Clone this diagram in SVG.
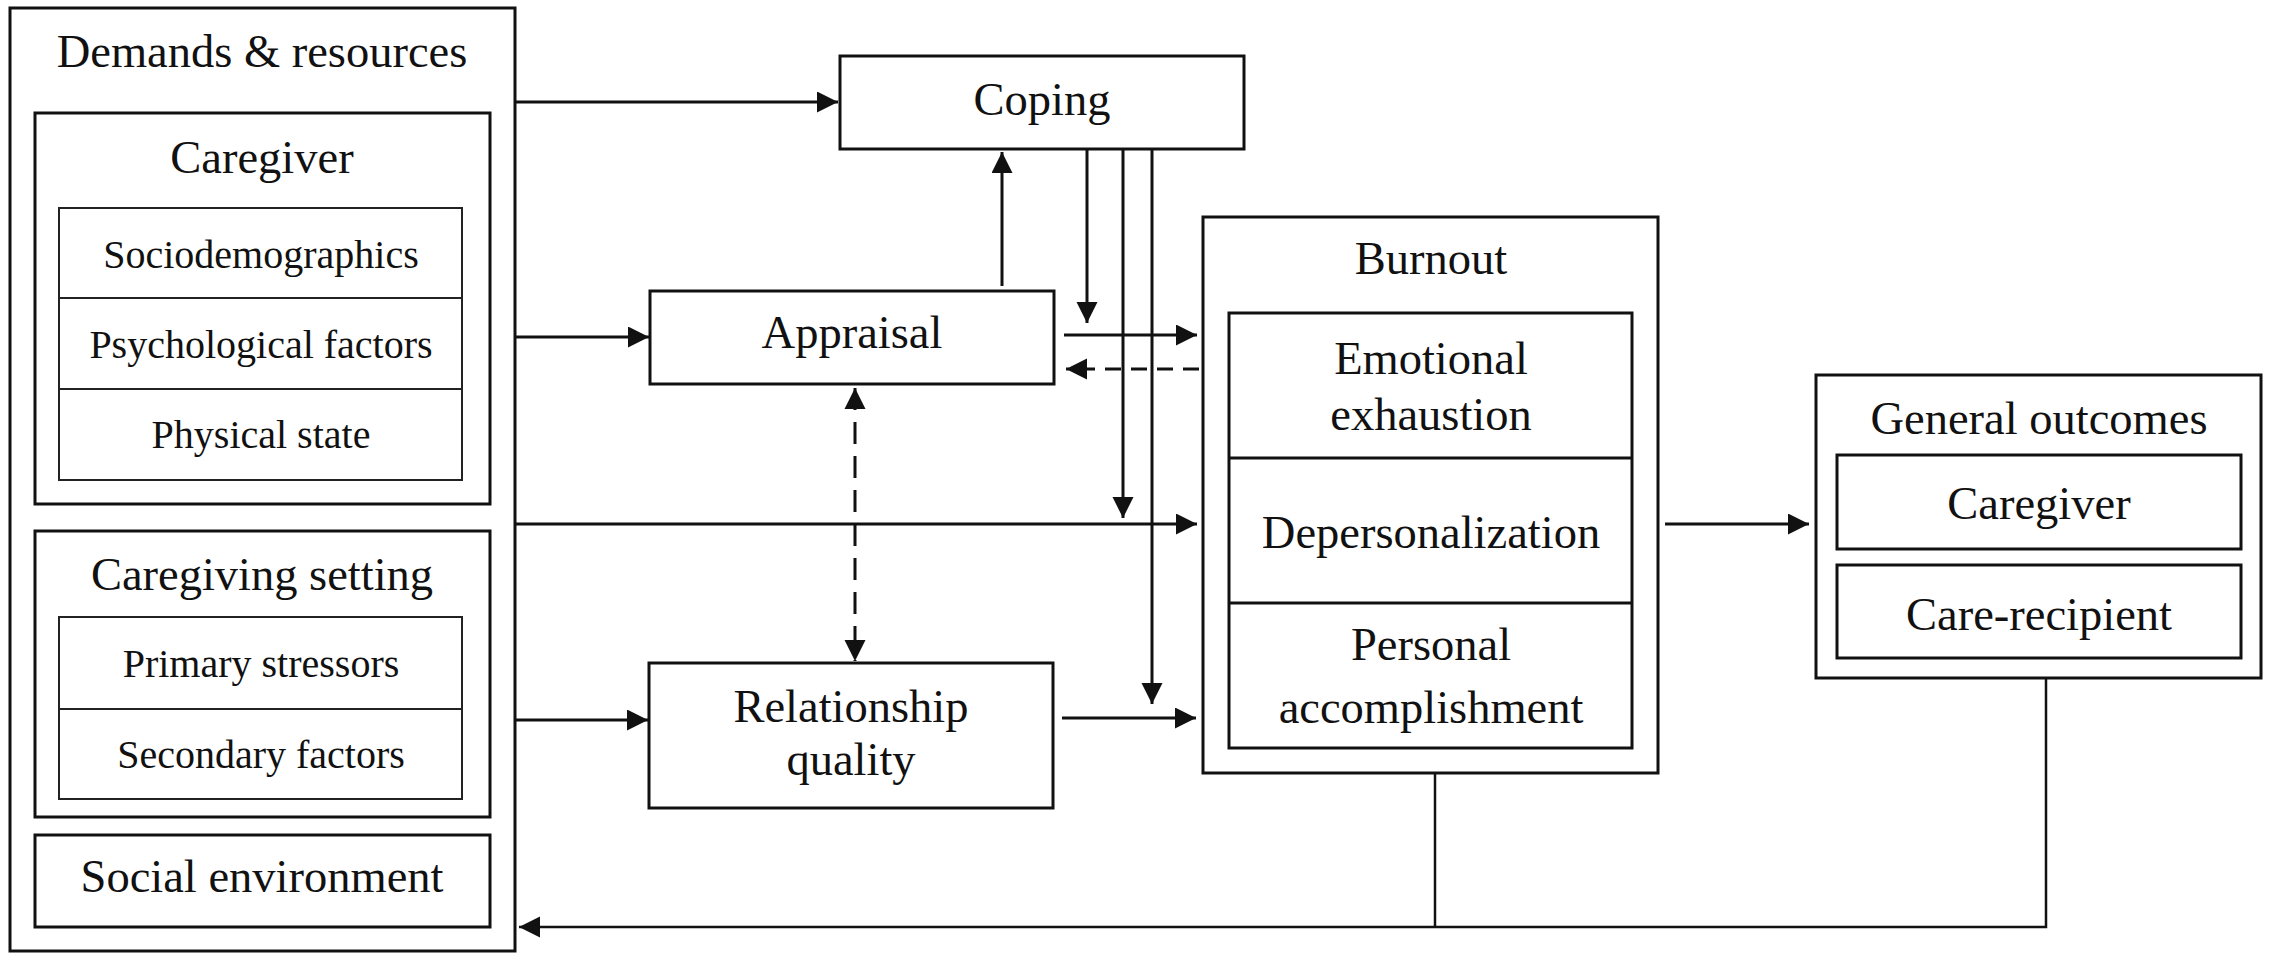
<svg xmlns="http://www.w3.org/2000/svg" width="2272" height="955" viewBox="0 0 2272 955">
<style>
.box{fill:#fff;stroke:#111;stroke-width:3}
.tbl{fill:none;stroke:#222;stroke-width:2}
.t{font-family:"Liberation Serif","Times New Roman",serif;font-size:46.5px;fill:#111;text-anchor:middle}
.s{font-family:"Liberation Serif","Times New Roman",serif;font-size:40px;fill:#111;text-anchor:middle}
.c{fill:none;stroke:#111;stroke-width:3}
.d{fill:none;stroke:#111;stroke-width:3;stroke-dasharray:16 10}
.dv{fill:none;stroke:#111;stroke-width:3;stroke-dasharray:22 12}
.f{fill:none;stroke:#111;stroke-width:2.5}
</style>
<defs>
<marker id="ah" markerUnits="userSpaceOnUse" markerWidth="22" markerHeight="22" refX="21" refY="10.5" orient="auto">
<path d="M0,0 L21,10.5 L0,21 z" fill="#111"/>
</marker>
<marker id="as" markerUnits="userSpaceOnUse" markerWidth="22" markerHeight="22" refX="0" refY="10.5" orient="auto">
<path d="M21,0 L0,10.5 L21,21 z" fill="#111"/>
</marker>
</defs>
<rect width="2272" height="955" fill="#fff"/>

<g id="demands">
<rect class="box" x="10" y="8" width="505" height="943"/>
<text class="t" x="262" y="67">Demands &amp; resources</text>
</g>
<g id="caregiver">
<rect class="box" x="35" y="113" width="455" height="391"/>
<text class="t" x="262" y="173">Caregiver</text>
<rect class="tbl" x="59" y="208" width="403" height="272"/>
<line class="tbl" x1="59" y1="298" x2="462" y2="298"/>
<line class="tbl" x1="59" y1="389" x2="462" y2="389"/>
<text class="s" x="261" y="268">Sociodemographics</text>
<text class="s" x="261" y="358">Psychological factors</text>
<text class="s" x="261" y="448">Physical state</text>
</g>
<g id="caregiving-setting">
<rect class="box" x="35" y="531" width="455" height="286"/>
<text class="t" x="262" y="590">Caregiving setting</text>
<rect class="tbl" x="59" y="617" width="403" height="182"/>
<line class="tbl" x1="59" y1="709" x2="462" y2="709"/>
<text class="s" x="261" y="677">Primary stressors</text>
<text class="s" x="261" y="768">Secondary factors</text>
</g>
<g id="social-environment">
<rect class="box" x="35" y="835" width="455" height="92"/>
<text class="t" x="262" y="892">Social environment</text>
</g>
<g id="coping">
<rect class="box" x="840" y="56" width="404" height="93"/>
<text class="t" x="1042" y="115">Coping</text>
</g>
<g id="appraisal">
<rect class="box" x="650" y="291" width="404" height="93"/>
<text class="t" x="852" y="348">Appraisal</text>
</g>
<g id="relationship">
<rect class="box" x="649" y="663" width="404" height="145"/>
<text class="t" x="851" y="722">Relationship</text>
<text class="t" x="851" y="775">quality</text>
</g>
<g id="burnout">
<rect class="box" x="1203" y="217" width="455" height="556"/>
<text class="t" x="1431" y="274">Burnout</text>
<rect class="box" x="1229" y="313" width="403" height="435"/>
<line class="box" x1="1229" y1="458" x2="1632" y2="458"/>
<line class="box" x1="1229" y1="603" x2="1632" y2="603"/>
<text class="t" x="1431" y="374">Emotional</text>
<text class="t" x="1431" y="430">exhaustion</text>
<text class="t" x="1431" y="548">Depersonalization</text>
<text class="t" x="1431" y="660">Personal</text>
<text class="t" x="1431" y="723">accomplishment</text>
</g>
<g id="general-outcomes">
<rect class="box" x="1816" y="375" width="445" height="303"/>
<text class="t" x="2039" y="434">General outcomes</text>
<rect class="box" x="1837" y="455" width="404" height="94"/>
<text class="t" x="2039" y="519">Caregiver</text>
<rect class="box" x="1837" y="565" width="404" height="93"/>
<text class="t" x="2039" y="630">Care-recipient</text>
</g>

<g id="connectors">
<line class="c" x1="516" y1="102" x2="838" y2="102" marker-end="url(#ah)"/>
<line class="c" x1="516" y1="337" x2="649" y2="337" marker-end="url(#ah)"/>
<line class="c" x1="516" y1="524" x2="1197" y2="524" marker-end="url(#ah)"/>
<line class="c" x1="516" y1="720" x2="648" y2="720" marker-end="url(#ah)"/>
<line class="c" x1="1002" y1="286" x2="1002" y2="152" marker-end="url(#ah)"/>
<line class="c" x1="1087" y1="150" x2="1087" y2="323" marker-end="url(#ah)"/>
<line class="c" x1="1123" y1="150" x2="1123" y2="518" marker-end="url(#ah)"/>
<line class="c" x1="1152" y1="150" x2="1152" y2="704" marker-end="url(#ah)"/>
<line class="c" x1="1064" y1="335" x2="1197" y2="335" marker-end="url(#ah)"/>
<line class="d" x1="1199" y1="369" x2="1066" y2="369" marker-end="url(#ah)"/>
<line class="dv" x1="855" y1="388" x2="855" y2="661" marker-start="url(#as)" marker-end="url(#ah)"/>
<line class="c" x1="1062" y1="718" x2="1196" y2="718" marker-end="url(#ah)"/>
<line class="c" x1="1665" y1="524" x2="1809" y2="524" marker-end="url(#ah)"/>
<line class="f" x1="1435" y1="773" x2="1435" y2="927"/>
<polyline class="f" points="2046,678 2046,927 519,927" marker-end="url(#ah)"/>
</g>
</svg>
